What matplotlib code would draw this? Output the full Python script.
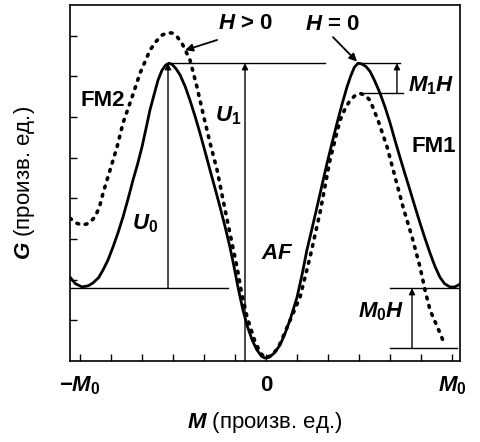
import numpy as np
import matplotlib.pyplot as plt

plt.rcParams['font.family'] = ['Liberation Sans', 'DejaVu Sans']
plt.rcParams['font.weight'] = 'bold'
plt.rcParams['mathtext.fontset'] = 'custom'
plt.rcParams['mathtext.rm'] = 'Liberation Sans:bold'
plt.rcParams['mathtext.it'] = 'Liberation Sans:italic:bold'

# courbe H = 0 (trait plein), M en unités de M0, G en unités arbitraires
m_h0 = [-1.054, -1.025, -0.989, -0.955, -0.930, -0.900, -0.876, -0.850, -0.823,
        -0.796, -0.769, -0.742, -0.715, -0.690, -0.667, -0.645, -0.624, -0.600,
        -0.581, -0.560, -0.540, -0.522, -0.505, -0.485, -0.462, -0.435, -0.409,
        -0.382, -0.355, -0.328, -0.301, -0.274, -0.247, -0.220, -0.194, -0.172,
        -0.151, -0.124, -0.100, -0.075, -0.050, -0.025, -0.005, 0.020, 0.045,
        0.075, 0.100, 0.129, 0.167, 0.195, 0.220, 0.247, 0.274, 0.301,
        0.328, 0.355, 0.382, 0.408, 0.435, 0.455, 0.475, 0.495, 0.515,
        0.537, 0.559, 0.585, 0.613, 0.640, 0.667, 0.693, 0.720, 0.747,
        0.774, 0.801, 0.828, 0.855, 0.882, 0.908, 0.935, 0.960, 0.989,
        1.015, 1.043]
g_h0 = [2.06, 1.90, 1.82, 1.85, 1.92, 2.05, 2.24, 2.48, 2.80,
        3.15, 3.54, 3.98, 4.45, 4.85, 5.26, 5.72, 6.17, 6.58,
        6.90, 7.14, 7.27, 7.32, 7.29, 7.19, 7.03, 6.75, 6.41,
        6.02, 5.60, 5.15, 4.69, 4.24, 3.78, 3.30, 2.80, 2.32,
        1.82, 1.25, 0.85, 0.52, 0.28, 0.12, 0.07, 0.10, 0.20,
        0.39, 0.65, 1.01, 1.57, 2.15, 2.73, 3.25, 3.78, 4.32,
        4.86, 5.36, 5.85, 6.30, 6.73, 7.00, 7.22, 7.32, 7.30,
        7.24, 7.12, 6.88, 6.58, 6.24, 5.85, 5.43, 5.01, 4.60,
        4.20, 3.79, 3.39, 3.01, 2.65, 2.33, 2.06, 1.90, 1.82,
        1.82, 1.89]

# courbe H > 0 (pointillés)
m_hp = [-1.054, -1.020, -0.989, -0.955, -0.919, -0.895, -0.876, -0.839, -0.801,
        -0.769, -0.720, -0.677, -0.624, -0.590, -0.559, -0.530, -0.505, -0.478,
        -0.452, -0.409, -0.371, -0.339, -0.301, -0.263, -0.231, -0.194, -0.156,
        -0.134, -0.102, -0.059, -0.030, -0.005, 0.030, 0.065, 0.118, 0.183,
        0.237, 0.290, 0.344, 0.398, 0.425, 0.452, 0.478, 0.505, 0.532,
        0.559, 0.602, 0.651, 0.694, 0.737, 0.785, 0.828, 0.855, 0.882,
        0.935, 0.962]
g_hp = [3.51, 3.39, 3.34, 3.38, 3.54, 3.80, 4.13, 4.69, 5.26,
        5.85, 6.49, 7.08, 7.64, 7.86, 8.01, 8.07, 8.06, 7.97,
        7.81, 7.40, 6.73, 6.09, 5.36, 4.69, 3.96, 3.14, 2.31,
        1.74, 1.08, 0.47, 0.20, 0.07, 0.14, 0.32, 0.88, 1.57,
        2.56, 3.64, 4.94, 5.92, 6.20, 6.41, 6.52, 6.58, 6.53,
        6.41, 5.92, 5.26, 4.52, 3.78, 3.05, 2.31, 1.74, 1.25,
        0.69, 0.39]

# niveaux utilisés pour les repères
g_fm = 1.79      # minimum FM (H = 0)
g_max = 7.32     # sommet (H = 0)
g_max_h = 6.58   # sommet droit (H > 0)
g_fm1_h = 0.32   # FM1 pour H > 0
g_af = 0.0

xticks_lab = [-1, 0, 1]
xticks_labels = ['$-M_0$', '0', '$M_0$']

fig = plt.figure(figsize=(4.8, 4.42), dpi=100)
ax = fig.add_axes([70/480, 81/442, 390/480, 356/442])

ax.plot(m_h0, g_h0, color='k', lw=2.0, solid_capstyle='round',
        solid_joinstyle='round')
ax.plot(m_hp, g_hp, color='k', lw=2.6, linestyle=(0, (0.5, 1.9)),
        dash_capstyle='round')

lw_fin = 1.0
ax.plot([-1.054, -0.204], [g_fm, g_fm], color='k', lw=lw_fin)
ax.plot([-0.527, 0.317], [g_max, g_max], color='k', lw=lw_fin)
ax.plot([0.495, 0.720], [g_max, g_max], color='k', lw=lw_fin)
ax.plot([0.516, 0.737], [g_max_h, g_max_h], color='k', lw=lw_fin)
ax.plot([0.667, 1.043], [g_fm, g_fm], color='k', lw=lw_fin)
ax.plot([0.667, 1.027], [g_fm1_h, g_fm1_h], color='k', lw=lw_fin)

fl = dict(arrowstyle='-|>', color='k', lw=lw_fin, mutation_scale=9,
          shrinkA=0, shrinkB=0)
ax.annotate('', xy=(-0.527, g_max), xytext=(-0.527, g_fm), arrowprops=fl)
ax.annotate('', xy=(-0.113, g_max), xytext=(-0.113, g_af), arrowprops=fl)
ax.annotate('', xy=(0.704, g_max), xytext=(0.704, g_max_h), arrowprops=fl)
ax.annotate('', xy=(0.785, g_fm), xytext=(0.785, g_fm1_h), arrowprops=fl)

fl2 = dict(arrowstyle='-|>', color='k', lw=1.3, mutation_scale=11,
           shrinkA=0, shrinkB=0)
ax.annotate('', xy=(-0.435, 7.64), xytext=(-0.263, 7.89), arrowprops=fl2)
ax.annotate('', xy=(0.489, 7.36), xytext=(0.360, 7.96), arrowprops=fl2)

fs = 16
ax.text(-0.108, 8.30, '$H$ > 0', fontsize=fs, ha='center', va='center')
ax.text(0.355, 8.28, '$H$ = 0', fontsize=fs, ha='center', va='center')
ax.text(-0.876, 6.41, 'FM2', fontsize=fs, ha='center', va='center')
ax.text(0.903, 5.26, 'FM1', fontsize=fs, ha='center', va='center')
ax.text(-0.651, 3.37, '$U_0$', fontsize=fs, ha='center', va='center')
ax.text(-0.204, 6.04, '$U_1$', fontsize=fs, ha='center', va='center')
ax.text(0.059, 2.63, '$AF$', fontsize=fs, ha='center', va='center')
ax.text(0.887, 6.76, '$M_1H$', fontsize=fs, ha='center', va='center')
ax.text(0.618, 1.20, '$M_0H$', fontsize=fs, ha='center', va='center')

ax.set_xlim(-1.054, 1.043)
ax.set_ylim(0, 8.75)
ax.set_xticks(xticks_lab)
ax.set_xticklabels(xticks_labels)
ax.set_xticks(np.arange(-6, 7) / 6, minor=True)
ax.set_yticks(np.arange(1, 9))
ax.set_yticklabels([])
ax.tick_params(axis='both', which='both', direction='in', length=5, width=1,
               labelsize=fs, pad=10)
for s in ax.spines.values():
    s.set_linewidth(1.2)

ax.set_xlabel('$M$ (произв. ед.)', fontsize=fs, labelpad=9)
ax.set_ylabel('$G$ (произв. ед.)', fontsize=fs, labelpad=14)

plt.savefig('out.png', dpi=100)
